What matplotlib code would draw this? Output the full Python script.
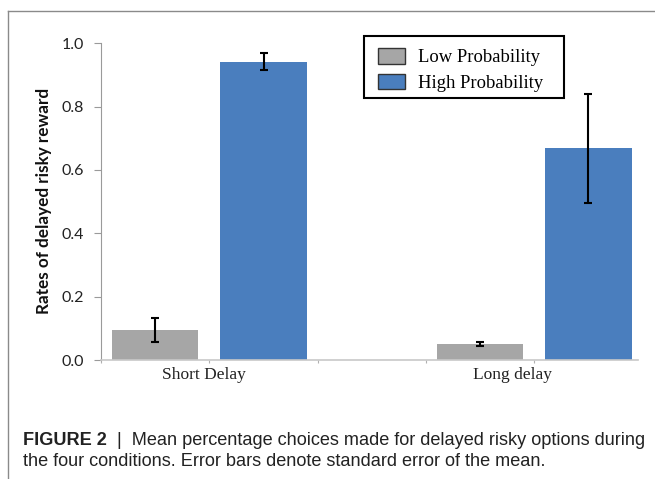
import numpy as np
import matplotlib
matplotlib.use('Agg')
import matplotlib.pyplot as plt
from matplotlib.lines import Line2D
from matplotlib.patches import Patch, Rectangle

conditions = ['Short Delay', 'Long delay']
series = ['Low Probability', 'High Probability']
low_prob = [0.095, 0.050]
low_err = [0.038, 0.006]
high_prob = [0.942, 0.668]
high_err = [0.026, 0.172]
y_ticks = [0.0, 0.2, 0.4, 0.6, 0.8, 1.0]

gray = '#A6A6A6'
blue = '#4A7EBE'

fig = plt.figure(figsize=(6.55, 4.79), dpi=100)
ax = fig.add_axes([101 / 655, 1 - 360 / 479, (638 - 101) / 655, (360 - 43.3) / 479])

x = np.arange(len(conditions))
w = 0.266
off = 0.167
ax.bar(x - off, low_prob, w, color=gray, zorder=2)
ax.bar(x + off, high_prob, w, color=blue, zorder=2)
ax.errorbar(x - off, low_prob, yerr=low_err, fmt='none', ecolor='black',
            elinewidth=1.5, capsize=3, capthick=1.5, zorder=3)
ax.errorbar(x + off, high_prob, yerr=high_err, fmt='none', ecolor='black',
            elinewidth=1.5, capsize=3, capthick=1.5, zorder=3)

ax.set_xlim(-1 / 3, 1.32)
ax.set_ylim(0, 1.0)
ax.set_yticks(y_ticks)
ax.set_yticklabels(['%.1f' % t for t in y_ticks], fontsize=11.5,
                   family='Lato', color='#222222')
ax.tick_params(axis='y', direction='out', length=5, width=0.8, color='#9a9a9a', pad=7)

# small category separator ticks on the x axis
ax.set_xticks(np.arange(-1, 4) / 3)
ax.set_xticklabels([])
ax.tick_params(axis='x', direction='out', length=2, width=0.8, color='#b0b0b0')
for pos, lab in zip([-0.015, 0.934], conditions):
    ax.text(pos, -0.047, lab, ha='center', va='center', fontsize=12.5,
            family='Liberation Serif', color='#222222',
            transform=ax.get_xaxis_transform())

for s in ['top', 'right']:
    ax.spines[s].set_visible(False)
ax.spines['left'].set_color('#9a9a9a')
ax.spines['bottom'].set_color('#c8c8c8')
ax.spines['bottom'].set_linewidth(1.2)

fig.text(44.5 / 655, 1 - 201 / 479, 'Rates of delayed risky reward', rotation=90,
         fontsize=12.3, fontweight='bold', family='Lato', ha='center', va='center',
         color='#111111')

handles = [Patch(facecolor=gray, edgecolor='#333333', linewidth=1),
           Patch(facecolor=blue, edgecolor='#333333', linewidth=1)]
leg = ax.legend(handles, series, loc='upper left', bbox_to_anchor=(367 / 655, 1 - 37 / 479),
                bbox_transform=fig.transFigure, prop={'family': 'Liberation Serif', 'size': 13.4},
                frameon=False, borderpad=0.6, handlelength=1.45, handleheight=0.9,
                handletextpad=0.7, labelspacing=0.4, borderaxespad=0)
# legend box drawn separately to match the wider frame
fig.add_artist(Rectangle((364 / 655, 1 - 98 / 479), 200 / 655, 62 / 479,
                         transform=fig.transFigure, fill=False, edgecolor='black',
                         linewidth=1.5))

# frame around the chart image
fig.add_artist(Line2D([8 / 655, 8 / 655], [0, 1 - 11 / 479], transform=fig.transFigure,
                      color='#8a8a8a', linewidth=1))
fig.add_artist(Line2D([8 / 655, 1], [1 - 11 / 479, 1 - 11 / 479], transform=fig.transFigure,
                      color='#8a8a8a', linewidth=1))

# caption
cap = fig.text(23 / 655, 1 - 445 / 479, 'FIGURE 2', fontsize=13.1, fontweight='bold',
               family='Liberation Sans', va='baseline', color='#222222')
ax.annotate('  |  Mean percentage choices made for delayed risky options during',
            xy=(1, 0), xycoords=cap, va='bottom', ha='left', fontsize=13.1,
            family='Liberation Sans', color='#222222', annotation_clip=False)
fig.text(23 / 655, 1 - 466 / 479,
         'the four conditions. Error bars denote standard error of the mean.',
         fontsize=13.1, family='Liberation Sans', va='baseline', color='#222222')

fig.savefig('out.png', dpi=100)
